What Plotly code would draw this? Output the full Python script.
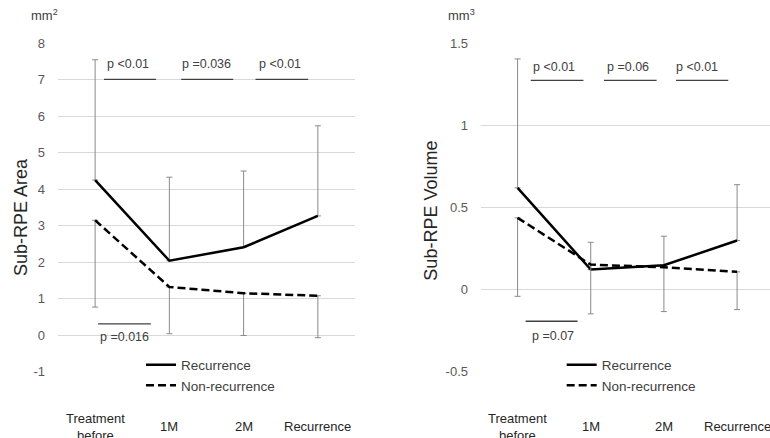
import plotly.graph_objects as go

# ---------------- data ----------------
categories = ["Treatment before", "1M", "2M", "Recurrence"]
category_labels = ["Treatment<br>before", "1M", "2M", "Recurrence"]

area_recurrence = [4.25, 2.04, 2.41, 3.27]
area_recurrence_sd = [3.30, 2.29, 2.09, 2.47]
area_nonrecurrence = [3.15, 1.32, 1.15, 1.08]
area_nonrecurrence_sd = [2.38, 1.28, 1.16, 1.15]

volume_recurrence = [0.62, 0.122, 0.148, 0.299]
volume_recurrence_sd = [0.785, 0.166, 0.177, 0.34]
volume_nonrecurrence = [0.437, 0.152, 0.136, 0.108]
volume_nonrecurrence_sd = [0.478, 0.30, 0.27, 0.23]

area_ticks = [-1, 0, 1, 2, 3, 4, 5, 6, 7, 8]
volume_ticks = [-0.5, 0, 0.5, 1, 1.5]
volume_tick_text = ["-0.5", "0", "0.5", "1", "1.5"]

area_pvalues = ["p <0.01", "p =0.036", "p <0.01", "p =0.016"]
volume_pvalues = ["p <0.01", "p =0.06", "p <0.01", "p =0.07"]

# ---------------- layout helpers (positions, not data) ----------------
FONT = "Arial, Liberation Sans, sans-serif"
TXT = "#404040"
GRID = "#d9d9d9"
ERR = "#8a8a8a"

# bracket geometry: (x0, x1, line_y, text_x, text_y) in axis units
area_brackets = [(0.12, 0.82, 7.01, 0.443, 7.43), (1.16, 1.86, 7.01, 1.503, 7.43),
                 (2.16, 2.87, 7.01, 2.49, 7.43), (0.04, 0.75, 0.31, 0.393, -0.04)]
volume_brackets = [(0.18, 0.90, 1.274, 0.502, 1.355), (1.18, 1.90, 1.274, 1.513, 1.355),
                   (2.165, 2.88, 1.274, 2.457, 1.355), (0.11, 0.82, -0.193, 0.488, -0.285)]

fig = go.Figure()

def add_pair(xa, ya, rec, rec_sd, non, non_sd, legend):
    zeros = [0] * len(rec)
    fig.add_trace(go.Scatter(
        x=categories, y=rec, mode="lines", name="Recurrence",
        line=dict(color="black", width=2.5),
        error_y=dict(type="data", symmetric=False, array=rec_sd, arrayminus=zeros,
                     color=ERR, thickness=1, width=3),
        xaxis=xa, yaxis=ya, legend=legend))
    fig.add_trace(go.Scatter(
        x=categories, y=non, mode="lines", name="Non-recurrence",
        line=dict(color="black", width=2.5, dash="8px,4px"),
        error_y=dict(type="data", symmetric=False, array=zeros, arrayminus=non_sd,
                     color=ERR, thickness=1, width=3),
        xaxis=xa, yaxis=ya, legend=legend))

add_pair("x", "y", area_recurrence, area_recurrence_sd,
         area_nonrecurrence, area_nonrecurrence_sd, "legend")
add_pair("x2", "y2", volume_recurrence, volume_recurrence_sd,
         volume_nonrecurrence, volume_nonrecurrence_sd, "legend2")

shapes = []
annotations = []
for (xref, yref, brackets, texts) in [("x", "y", area_brackets, area_pvalues),
                                      ("x2", "y2", volume_brackets, volume_pvalues)]:
    for (x0, x1, ly, tx, ty), t in zip(brackets, texts):
        shapes.append(dict(type="line", xref=xref, yref=yref, x0=x0, x1=x1,
                           y0=ly, y1=ly, line=dict(color="#404040", width=1.3)))
        annotations.append(dict(xref=xref, yref=yref, x=tx, y=ty, text=t, showarrow=False,
                                font=dict(family=FONT, size=12.5, color=TXT),
                                xanchor="center", yanchor="middle"))
    for i, lab in enumerate(category_labels):
        annotations.append(dict(xref=xref, yref="paper", x=i, y=-0.167, text=lab,
                                showarrow=False, xanchor="center", yanchor="middle",
                                font=dict(family=FONT, size=13, color="#262626")))

# units and axis titles
annotations += [
    dict(xref="paper", yref="paper", x=-0.0183, y=1.085, text="mm<sup>2</sup>", showarrow=False,
         font=dict(family=FONT, size=13, color=TXT), xanchor="center", yanchor="middle"),
    dict(xref="paper", yref="paper", x=0.5667, y=1.085, text="mm<sup>3</sup>", showarrow=False,
         font=dict(family=FONT, size=13, color=TXT), xanchor="center", yanchor="middle"),
    dict(xref="paper", yref="paper", x=-0.052, y=0.471, text="Sub-RPE Area", showarrow=False,
         textangle=-90, font=dict(family=FONT, size=18, color="#262626"),
         xanchor="center", yanchor="middle"),
    dict(xref="paper", yref="paper", x=0.5246, y=0.489, text="Sub-RPE Volume", showarrow=False,
         textangle=-90, font=dict(family=FONT, size=18, color="#262626"),
         xanchor="center", yanchor="middle"),
]

axis_common = dict(showgrid=False, zeroline=False, showline=False, showticklabels=False,
                   type="category", fixedrange=True)
yaxis_common = dict(showgrid=True, gridcolor=GRID, gridwidth=1, zeroline=False, showline=False,
                    tickfont=dict(family=FONT, size=13, color="#595959"),
                    ticklabelstandoff=12, tickmode="array", fixedrange=True)

legend_common = dict(bgcolor="rgba(0,0,0,0)", borderwidth=0,
                     font=dict(family=FONT, size=13.5, color=TXT),
                     xanchor="left", yanchor="top", tracegroupgap=0,
                     itemclick=False)

fig.update_layout(
    width=770, height=438,
    margin=dict(l=58, r=0, t=43, b=66),
    paper_bgcolor="white", plot_bgcolor="white",
    showlegend=True,
    hovermode=False,
    xaxis=dict(domain=[0, 0.4171], range=[-0.5, 3.5], **axis_common),
    xaxis2=dict(domain=[0.5941, 1], range=[-0.5, 3.45], anchor="y2", **axis_common),
    yaxis=dict(range=[-1.01, 8.01], tickvals=area_ticks,
               ticktext=[str(v) for v in area_ticks], anchor="x", **yaxis_common),
    yaxis2=dict(range=[-0.502, 1.502], tickvals=volume_ticks, ticktext=volume_tick_text,
                anchor="x2", **yaxis_common),
    legend=dict(x=0.1166, y=0.0684, **legend_common),
    legend2=dict(x=0.7074, y=0.0684, **legend_common),
    shapes=shapes,
    annotations=annotations,
)

fig.write_html("out.html", config={"displayModeBar": False},
               post_script="document.body.style.margin='0';document.body.style.overflow='hidden';")
